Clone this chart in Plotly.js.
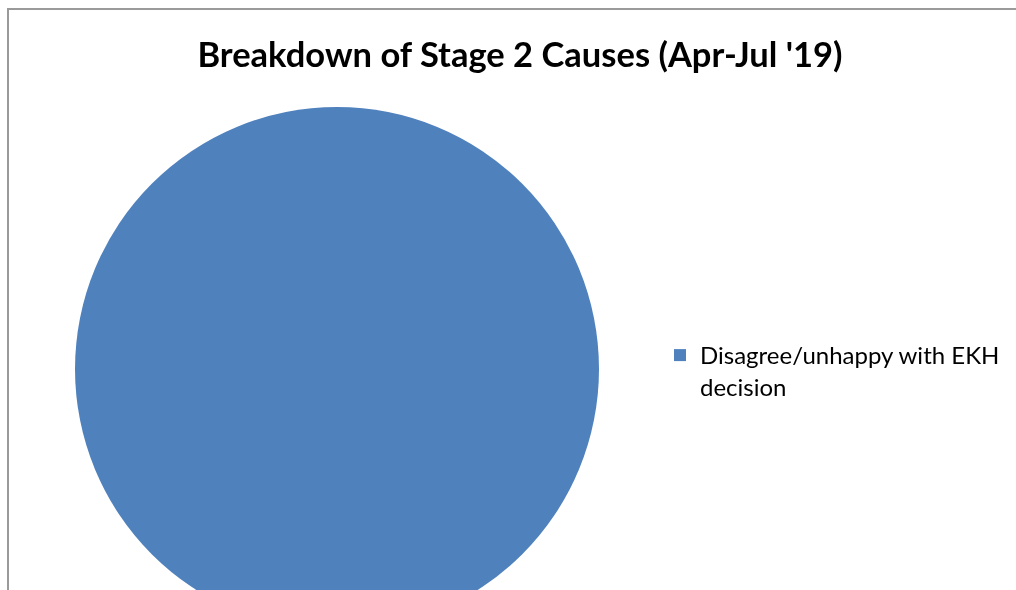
<!DOCTYPE html>
<html>
<head>
<meta charset="utf-8">
<script src="https://cdn.plot.ly/plotly-3.0.1.min.js"></script>
<style>
  html, body { margin: 0; padding: 0; background: #ffffff; overflow: hidden; width: 1016px; height: 590px; }
  #view { position: fixed; left: 0; top: 0; width: 1016px; height: 590px; overflow: hidden; }
  .edge { position: absolute; background: #9a9a9a; z-index: 0; }
  #edge-top { left: 7px; top: 8px; width: 1009px; height: 2px; }
  #edge-left { left: 7px; top: 8px; width: 2px; height: 582px; }
  #chart { position: absolute; left: 0; top: 0; width: 1016px; height: 800px; z-index: 1; }
</style>
</head>
<body>
<div id="view">
  <div class="edge" id="edge-top"></div>
  <div class="edge" id="edge-left"></div>
  <div id="chart"></div>
</div>
<script>
// Causes of Stage 2 complaints, April–July 2019
const causeLabels = ["Disagree/unhappy with EKH<br>decision"];
const causeCounts = [1];
const sliceColors = ["#4F81BD"];

const W = 1016, H = 800;

const trace = {
  type: "pie",
  labels: causeLabels,
  values: causeCounts,
  marker: { colors: sliceColors, line: { width: 0 } },
  textinfo: "none",
  hoverinfo: "label+percent",
  sort: false,
  direction: "clockwise",
  domain: { x: [75 / W, 599 / W], y: [(H - 631) / H, (H - 107) / H] }
};

const layout = {
  width: W,
  height: H,
  margin: { l: 0, r: 0, t: 0, b: 0 },
  paper_bgcolor: "rgba(0,0,0,0)",
  font: { family: "Lato, 'Open Sans', sans-serif", color: "#000000" },
  title: {
    text: "<b>Breakdown of Stage 2 Causes (Apr-Jul '19)</b>",
    font: { size: 34.5, family: "Lato, 'Open Sans', sans-serif", color: "#000000" },
    x: 520 / W,
    xanchor: "center",
    y: (H - 55) / H,
    yanchor: "middle"
  },
  showlegend: true,
  legend: {
    x: 660 / W,
    y: (H - 333) / H,
    xanchor: "left",
    yanchor: "top",
    valign: "top",
    font: { size: 24, family: "Lato, 'Open Sans', sans-serif", color: "#000000" },
    itemwidth: 30,
    bgcolor: "rgba(0,0,0,0)"
  }
};

Plotly.newPlot("chart", [trace], layout, { displayModeBar: false, staticPlot: true });
</script>
</body>
</html>
